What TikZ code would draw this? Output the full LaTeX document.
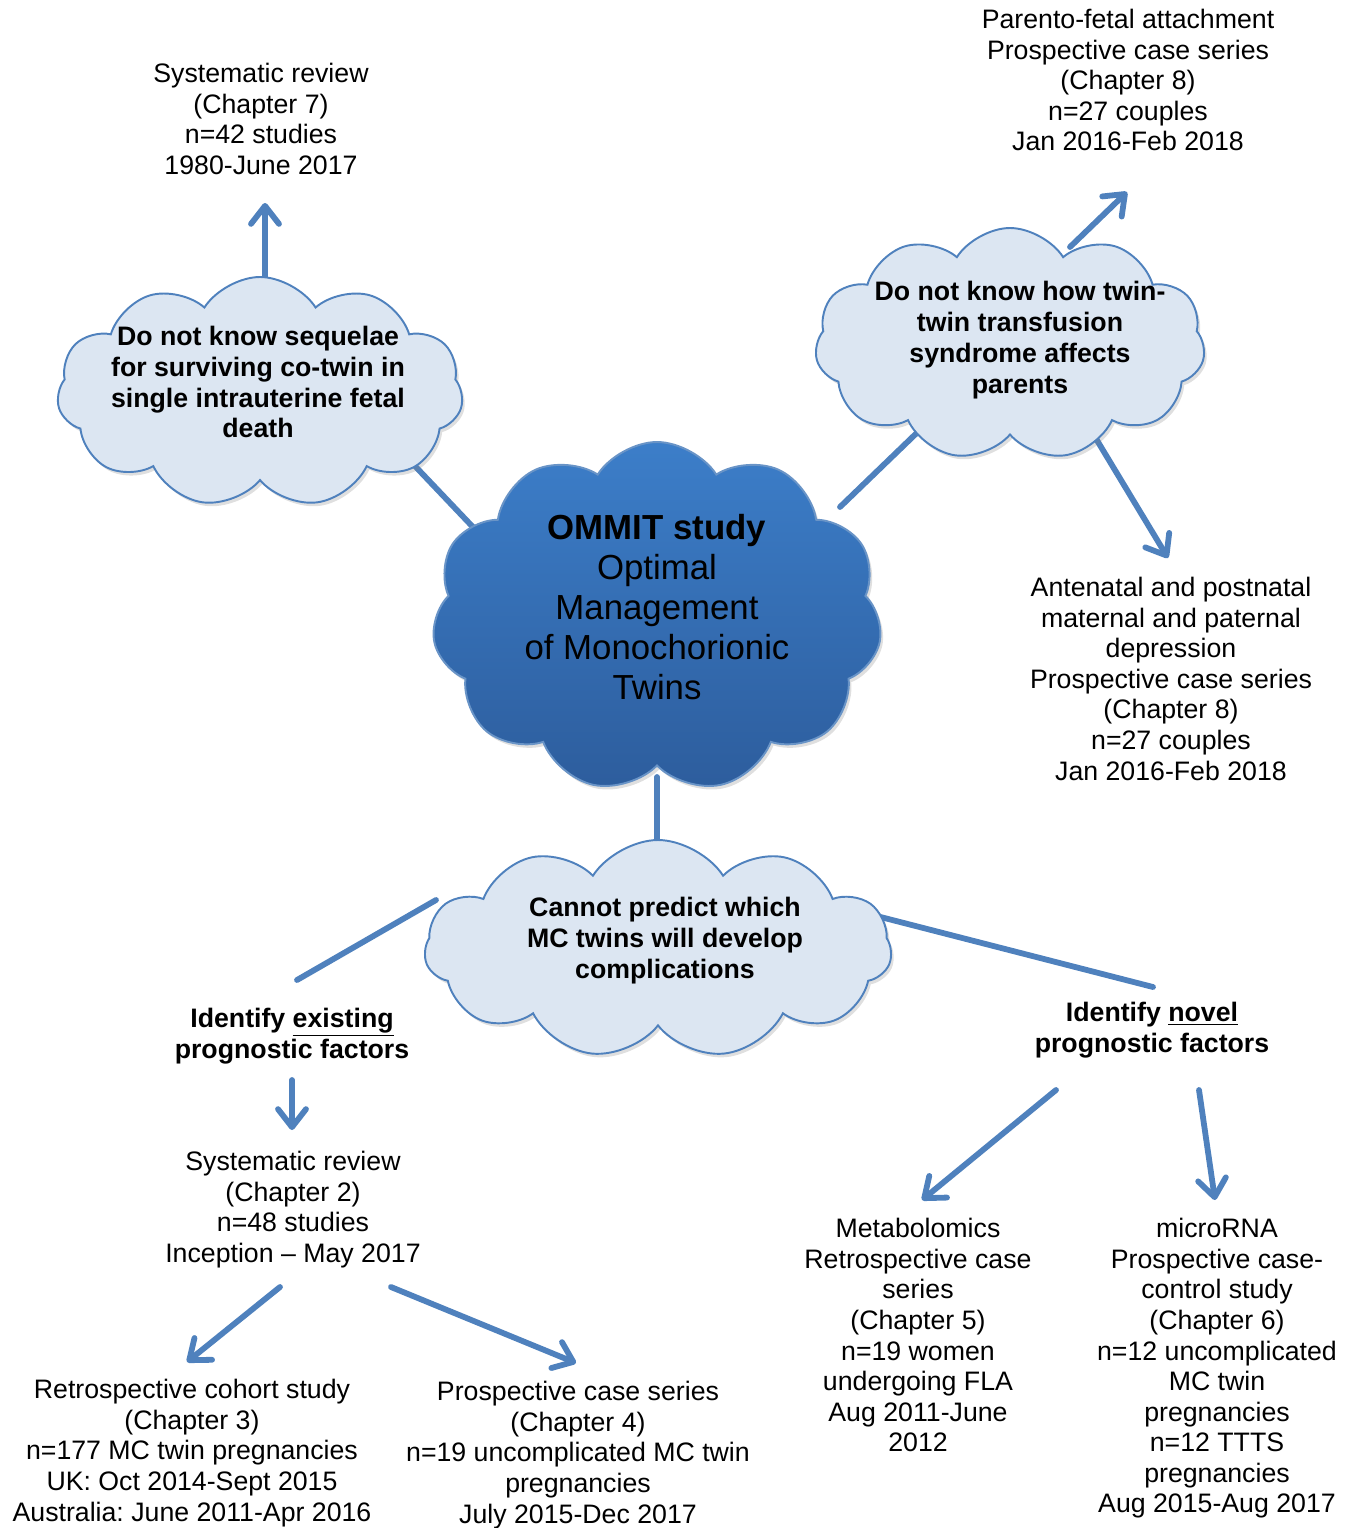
\documentclass[tikz,border=0pt]{standalone}
\usepackage{fontspec}
\setmainfont{Liberation Sans}
\usetikzlibrary{arrows.meta,calc,shapes.symbols,shadows,backgrounds}

\definecolor{linkblue}{RGB}{79,129,189}
\definecolor{cloudfill}{RGB}{220,230,242}
\definecolor{maintop}{RGB}{60,126,201}
\definecolor{mainbottom}{RGB}{45,93,157}

\begin{document}
\frenchspacing
\begin{tikzpicture}[
  x=0.02cm, y=-0.02cm,
  cloudbox/.style={cloud, cloud puffs=11, cloud puff arc=115, cloud ignores aspect,
    draw=linkblue, line width=1.1pt, fill=cloudfill, inner sep=0pt,
    drop shadow={opacity=0.25, shadow xshift=1.5pt, shadow yshift=-2pt}},
  maincloud/.style={cloudbox, draw=linkblue!85!white, top color=maintop, bottom color=mainbottom},
  txt/.style={align=center, inner sep=0pt, anchor=north, font=\fontsize{15.2}{17.4}\selectfont},
  headtxt/.style={txt, font=\bfseries\fontsize{15.2}{17.6}\selectfont},
  cloudtxt/.style={align=center, inner sep=0pt, font=\bfseries\fontsize{15.2}{17.6}\selectfont},
  maintxt/.style={align=center, inner sep=0pt, font=\fontsize{19.8}{22.7}\selectfont},
  link/.style={draw=linkblue, line width=3.3pt, line cap=round},
  arrow/.style={link, -{Straight Barb[length=0.36cm, width=0.56cm, line cap=round, line join=round]}}
]
  \useasboundingbox (0,0) rectangle (1351,1528);

  \node[maincloud, minimum width=450*0.02cm, minimum height=350*0.02cm] (ommit) at (657,617) {};
  \node[maintxt] (ommittxt) at (657,607) {\textbf{OMMIT study}\\Optimal\\Management\\of Monochorionic\\Twins};

  \node[cloudbox, minimum width=406*0.02cm, minimum height=230*0.02cm] (lcloud) at (260,392) {};
  \node[cloudtxt] (lcloudtxt) at (258,382) {Do not know sequelae\\for surviving co-twin in\\single intrauterine fetal\\death};

  \node[cloudbox, minimum width=390*0.02cm, minimum height=232*0.02cm] (rcloud) at (1010,344) {};
  \node[cloudtxt] (rcloudtxt) at (1020,340) {Do not know how twin-\\twin transfusion\\syndrome affects\\parents};

  \node[cloudbox, minimum width=467*0.02cm, minimum height=218*0.02cm] (bcloud) at (658,949) {};
  \node[cloudtxt] (bcloudtxt) at (665,941) {Cannot predict which\\MC twins will develop\\complications};

  \node[txt] (rev7) at (261,63) {Systematic review\\(Chapter 7)\\n=42 studies\\1980-June 2017};
  \node[txt] (attach) at (1128,9) {Parento-fetal attachment\\Prospective case series\\(Chapter 8)\\n=27 couples\\Jan 2016-Feb 2018};
  \node[txt] (depress) at (1171,577) {Antenatal and postnatal\\maternal and paternal\\depression\\Prospective case series\\(Chapter 8)\\n=27 couples\\Jan 2016-Feb 2018};
  \node[headtxt] (existing) at (292,1008) {Identify \underline{existing}\\prognostic factors};
  \node[headtxt] (novel) at (1152,1002) {Identify \underline{novel}\\prognostic factors};
  \node[txt] (rev2) at (293,1151) {Systematic review\\(Chapter 2)\\n=48 studies\\Inception -- May 2017};
  \node[txt] (retro) at (192,1379) {Retrospective cohort study\\(Chapter 3)\\n=177 MC twin pregnancies\\UK: Oct 2014-Sept 2015\\Australia: June 2011-Apr 2016};
  \node[txt] (prosp) at (578,1381) {Prospective case series\\(Chapter 4)\\n=19 uncomplicated MC twin\\pregnancies\\July 2015-Dec 2017};
  \node[txt] (metab) at (918,1218) {Metabolomics\\Retrospective case\\series\\(Chapter 5)\\n=19 women\\undergoing FLA\\Aug 2011-June\\2012};
  \node[txt] (mirna) at (1217,1218) {microRNA\\Prospective case-\\control study\\(Chapter 6)\\n=12 uncomplicated\\MC twin\\pregnancies\\n=12 TTTS\\pregnancies\\Aug 2015-Aug 2017};

  \begin{scope}[on background layer]
    \draw[arrow] ($(lcloud.center)+(5,-100)$) -- ($(rev7.north)+(4,140)$);
    \draw[link] ($(lcloud.center)+(135,53)$) -- ($(ommit.center)+(-167,-72)$);
    \draw[link] ($(ommit.center)+(183,-110)$) -- ($(rcloud.center)+(-85,81)$);
    \draw[arrow] ($(rcloud.center)+(60,-97)$) -- ($(attach.north)+(-1,183)$);
    \draw[arrow] ($(rcloud.center)+(85,93)$) -- ($(depress.north)+(-3,-19)$);
    \draw[link] ($(ommit.center)+(0,160)$) -- ($(bcloud.center)+(-1,-89)$);
    \draw[link] ($(bcloud.center)+(-222,-49)$) -- ($(existing.north)+(5,-28)$);
    \draw[link] ($(bcloud.center)+(207,-36)$) -- ($(novel.north)+(1,-15)$);
  \end{scope}
  \draw[arrow] ($(existing.north)+(0,72)$) -- ($(rev2.north)+(-1,-21)$);
  \draw[arrow] ($(rev2.north)+(-13,136)$) -- ($(retro.north)+(-5,-17)$);
  \draw[arrow] ($(rev2.north)+(98,136)$) -- ($(prosp.north)+(-2,-18)$);
  \draw[arrow] ($(novel.north)+(-96,88)$) -- ($(metab.north)+(4,-18)$);
  \draw[arrow] ($(novel.north)+(47,88)$) -- ($(mirna.north)+(-2,-18)$);
\end{tikzpicture}
\end{document}
